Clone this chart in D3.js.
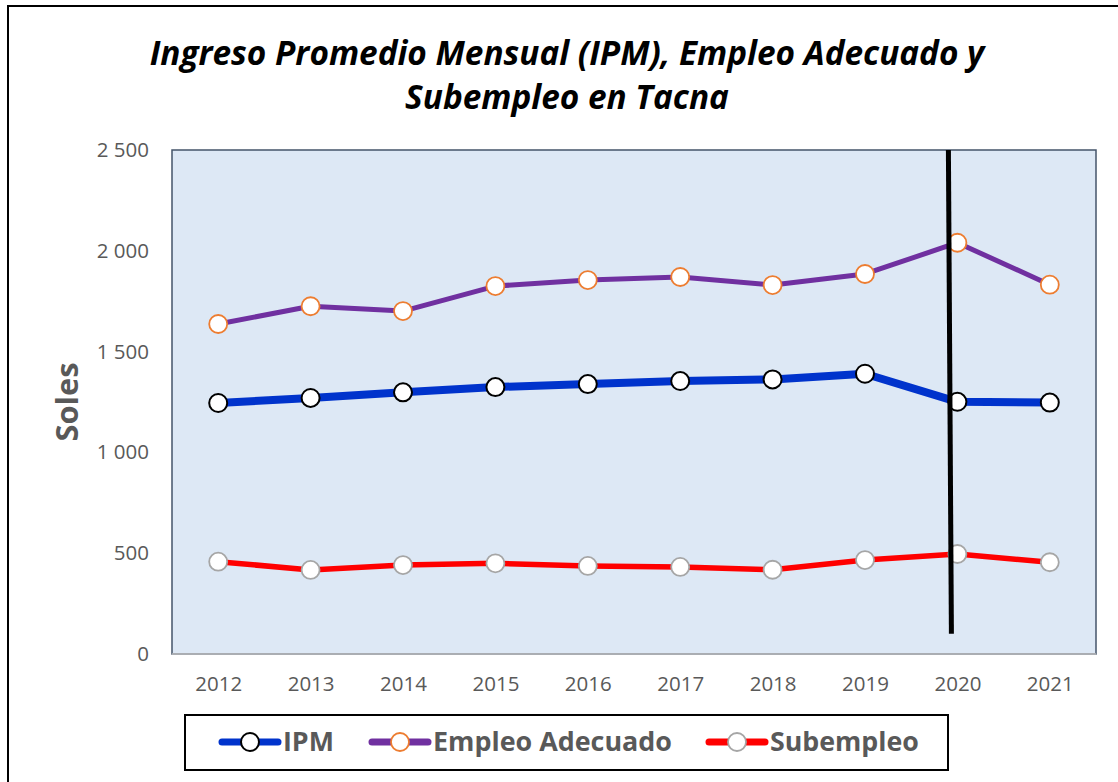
<!DOCTYPE html>
<html>
<head>
<meta charset="utf-8">
<script src="https://cdn.jsdelivr.net/npm/d3@7"></script>
<style>
  body { margin: 0; background: #fff; }
  svg { display: block; }
  text { font-family: "Open Sans", "Noto Sans", sans-serif; }
</style>
</head>
<body>
<svg id="chart" width="1118" height="782"></svg>
<script>
const years = ["2012","2013","2014","2015","2016","2017","2018","2019","2020","2021"];
const ipm = [1245, 1270, 1298, 1324, 1339, 1354, 1362, 1390, 1251, 1247];
const empleoAdecuado = [1637, 1725, 1701, 1825, 1855, 1870, 1830, 1885, 2040, 1832];
const subempleo = [458, 417, 441, 450, 437, 432, 418, 466, 496, 455];
const yTicks = [0, 500, 1000, 1500, 2000, 2500];
const titleLines = ["Ingreso Promedio Mensual (IPM), Empleo Adecuado y", "Subempleo en Tacna"];
const yTitle = "Soles";
const markerYear = "2020";
const markerRange = [2500, 100];

const series = [
  { name: "IPM", values: ipm, line: "#0033cc", width: 8, stroke: "#000000", sw: 2, textW: 51 },
  { name: "Empleo Adecuado", values: empleoAdecuado, line: "#7030a0", width: 5, stroke: "#ed7d31", sw: 1.8, textW: 239 },
  { name: "Subempleo", values: subempleo, line: "#ff0000", width: 5.5, stroke: "#a6a6a6", sw: 1.8, textW: 149 }
];

const svg = d3.select("#chart");
const plot = { left: 172, top: 150, right: 1096, bottom: 654 };

function fitWidth(sel, target) {
  const w = sel.node().getComputedTextLength();
  const fs = parseFloat(sel.attr("font-size"));
  sel.attr("font-size", fs * target / w);
  return fs * target / w;
}

// Outer frame
svg.append("rect").attr("x", 8).attr("y", 6).attr("width", 1130).attr("height", 800)
  .attr("fill", "#fff").attr("stroke", "#000").attr("stroke-width", 2);

const x = d3.scalePoint().domain(years).range([plot.left, plot.right]).padding(0.5);
const y = d3.scaleLinear().domain([0, 2500]).range([plot.bottom, plot.top]);

// Plot background
svg.append("rect").attr("x", plot.left).attr("y", plot.top)
  .attr("width", plot.right - plot.left).attr("height", plot.bottom - plot.top)
  .attr("fill", "#dde8f5").attr("stroke", "#44546a").attr("stroke-width", 1.5);
svg.append("line").attr("x1", plot.left).attr("x2", plot.right)
  .attr("y1", plot.bottom).attr("y2", plot.bottom).attr("stroke", "#bfbfbf").attr("stroke-width", 1.5);

// Y axis
const yAxis = svg.append("g").attr("transform", `translate(${plot.left},0)`)
  .call(d3.axisLeft(y).tickValues(yTicks).tickSize(0).tickPadding(23)
    .tickFormat(d => d3.format(",")(d).replace(/,/g, " ")));
yAxis.select(".domain").remove();
yAxis.selectAll("text").attr("font-size", 20.5).attr("fill", "#595959")
  .style("font-family", "'Open Sans', sans-serif");

// X axis
const xAxis = svg.append("g").attr("transform", `translate(0,${plot.bottom})`)
  .call(d3.axisBottom(x).tickSize(0).tickPadding(22));
xAxis.select(".domain").remove();
xAxis.selectAll("text").attr("font-size", 20.5).attr("fill", "#595959")
  .style("font-family", "'Open Sans', sans-serif");

// Y title
const yt = svg.append("text").attr("transform", "translate(78,402) rotate(-90)")
  .attr("text-anchor", "middle").attr("font-size", 28).attr("font-weight", "bold")
  .attr("fill", "#595959").text(yTitle);
fitWidth(yt, 79);

// Title
const titleY = [65, 109];
const t1 = svg.append("text").attr("x", 567).attr("y", titleY[0]).attr("text-anchor", "middle")
  .attr("font-size", 29).attr("font-weight", "bold").attr("font-style", "italic")
  .attr("fill", "#000").text(titleLines[0]);
const fsTitle = fitWidth(t1, 835);
svg.append("text").attr("x", 567).attr("y", titleY[1]).attr("text-anchor", "middle")
  .attr("font-size", fsTitle).attr("font-weight", "bold").attr("font-style", "italic")
  .attr("fill", "#000").text(titleLines[1]);

// Lines and markers
const lineGen = d3.line().x((d, i) => x(years[i])).y(d => y(d));
series.forEach(s => {
  svg.append("path").datum(s.values).attr("d", lineGen)
    .attr("fill", "none").attr("stroke", s.line).attr("stroke-width", s.width)
    .attr("stroke-linejoin", "round");
});
series.forEach(s => {
  svg.append("g").selectAll("circle").data(s.values).join("circle")
    .attr("cx", (d, i) => x(years[i])).attr("cy", d => y(d)).attr("r", 9)
    .attr("fill", "#fff").attr("stroke", s.stroke).attr("stroke-width", s.sw);
});

// Vertical marker line
svg.append("line")
  .attr("x1", x(markerYear) - 9).attr("y1", y(markerRange[0]))
  .attr("x2", x(markerYear) - 6).attr("y2", y(markerRange[1]))
  .attr("stroke", "#000").attr("stroke-width", 5);

// Legend
svg.append("rect").attr("x", 185).attr("y", 715).attr("width", 763).attr("height", 55)
  .attr("fill", "#fff").attr("stroke", "#000").attr("stroke-width", 2);
const legendX = [222, 372, 709];
series.forEach((s, i) => {
  const g = svg.append("g").attr("transform", `translate(${legendX[i]},742)`);
  g.append("line").attr("x1", 0).attr("x2", 56).attr("stroke", s.line)
    .attr("stroke-width", 7).attr("stroke-linecap", "round");
  g.append("circle").attr("cx", 28).attr("r", 9).attr("fill", "#fff")
    .attr("stroke", s.stroke).attr("stroke-width", s.sw);
  const t = g.append("text").attr("x", 61).attr("y", 0).attr("dy", "0.35em")
    .attr("font-size", 25).attr("font-weight", "bold").attr("fill", "#595959").text(s.name);
  fitWidth(t, s.textW);
});
</script>
</body>
</html>
